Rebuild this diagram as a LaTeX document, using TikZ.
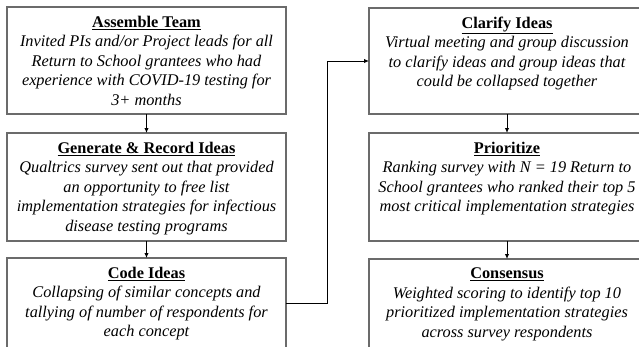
\documentclass[tikz,border=0pt]{standalone}
\usepackage{fontspec}
\setmainfont{Liberation Serif}
\usetikzlibrary{arrows.meta}
\definecolor{boxgray}{HTML}{6B6B6B}

% box content: height, width, heading, description
\newcommand{\stagebox}[4]{%
  \begin{minipage}[c][#1][t]{#2}\centering
    \fontsize{16.3pt}{19.5pt}\selectfont
    \vspace*{9pt}%
    {\bfseries\underline{#3}}\\
    {\itshape #4}%
  \end{minipage}}

\tikzset{
  stage/.style={draw=boxgray, line width=1.1pt, anchor=north west,
                inner sep=0pt, outer sep=0pt, fill=white},
  flow/.style={line width=1pt, -{Latex[length=5pt,width=4.5pt]}}
}

\begin{document}
\begin{tikzpicture}[x=1pt, y=-1pt]
  \useasboundingbox[fill=white] (0,0) rectangle (639,346);

  % left column
  \node[stage] (team) at (7,7)
    {\stagebox{107pt}{279pt}{Assemble Team}{Invited PIs and/or Project leads for all\\Return to School grantees who had\\experience with COVID-19 testing for\\3+ months}};
  \node[stage] (gen) at (7,133)
    {\stagebox{108pt}{279pt}{Generate \& Record Ideas}{Qualtrics survey sent out that provided\\an opportunity to free list\\implementation strategies for infectious\\disease testing programs}};
  \node[stage] (code) at (7,258)
    {\stagebox{90pt}{279pt}{Code Ideas}{Collapsing of similar concepts and\\tallying of number of respondents for\\each concept}};

  % right column
  \node[stage] (clarify) at (369,8)
    {\stagebox{106pt}{276pt}{Clarify Ideas}{Virtual meeting and group discussion\\to clarify ideas and group ideas that\\could be collapsed together}};
  \node[stage] (prior) at (369,133)
    {\stagebox{108pt}{276pt}{Prioritize}{Ranking survey with N = 19 Return to\\School grantees who ranked their top 5\\most critical implementation strategies}};
  \node[stage] (cons) at (369,259)
    {\stagebox{90pt}{276pt}{Consensus}{Weighted scoring to identify top 10\\prioritized implementation strategies\\across survey respondents}};

  % connectors
  \draw[flow] (team.south) -- (gen.north);
  \draw[flow] (gen.south) -- (code.north);
  \draw[flow] (code.east) -- ++(41,0) |- (clarify.west);
  \draw[flow] (clarify.south) -- (prior.north);
  \draw[flow] (prior.south) -- (cons.north);
\end{tikzpicture}
\end{document}
